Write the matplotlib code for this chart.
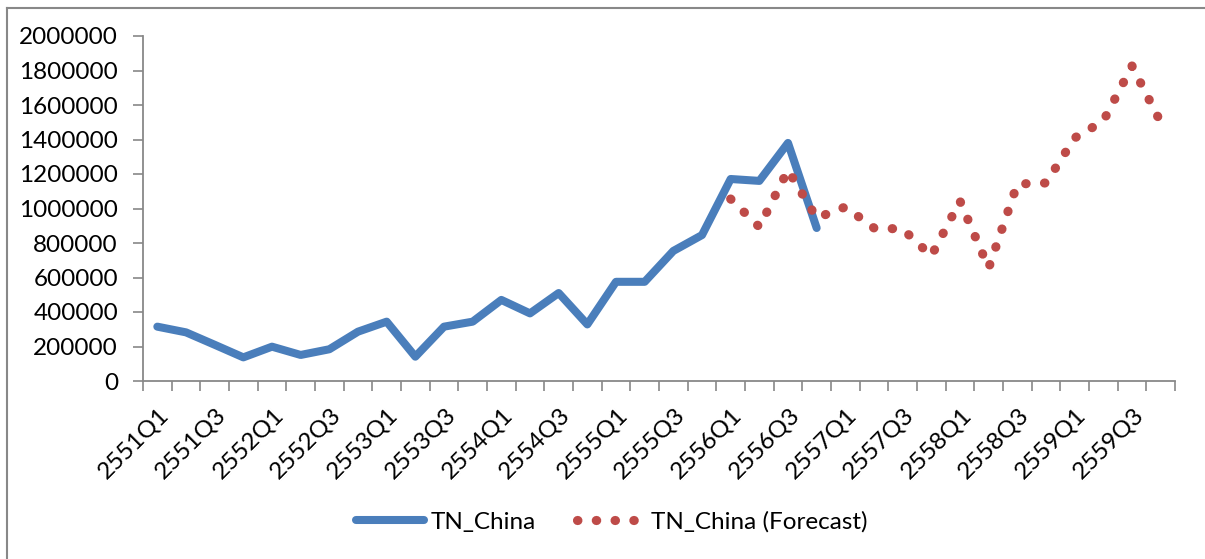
import matplotlib
matplotlib.use("Agg")
import matplotlib.pyplot as plt
from matplotlib.lines import Line2D
import matplotlib.transforms as mtransforms
import numpy as np

plt.rcParams['font.family'] = ['Lato', 'DejaVu Sans']
plt.rcParams['lines.scale_dashes'] = False

# Quarters on the Thai (B.E.) calendar
years = [2551, 2552, 2553, 2554, 2555, 2556, 2557, 2558, 2559]
quarters = [f"{y}Q{q}" for y in years for q in range(1, 5)]

# Tourist arrivals from China, observed
actual = [315000, 282000, 210000, 137000, 199000, 151000, 184000, 286000,
          344000, 141000, 315000, 344000, 470000, 392000, 510000, 328000,
          575000, 575000, 754000, 846000, 1171000, 1160000, 1380000, 887000]

# Forecast series, starting at 2556Q1
forecast_start = "2556Q1"
forecast = [1055000, 893000, 1223000, 945000, 1009000, 887000, 881000, 725000,
            1043000, 655000, 1142000, 1148000, 1409000, 1507000, 1826000, 1500000]

y_ticks = [0, 200000, 400000, 600000, 800000, 1000000, 1200000,
           1400000, 1600000, 1800000, 2000000]

W, H = 1205, 559
DPI = 100
fig = plt.figure(figsize=(W / DPI, H / DPI), dpi=DPI)
ax = fig.add_axes([143 / W, 1 - 381 / H, (1175 - 143) / W, (381 - 36) / H])

blue = "#4A7EBB"
red = "#BE4B48"
grey = "#888888"
fs = 17.5

x_act = np.arange(len(actual))
i0 = quarters.index(forecast_start)
x_fc = np.arange(i0, i0 + len(forecast))

ax.set_xlim(-0.5, len(quarters) - 0.5)
ax.set_ylim(0, 2000000)

# dot pitch chosen so that dots land on the first point and on the peak
pts = ax.transData.transform(np.column_stack([x_fc, forecast])) * 72 / DPI
seg = np.hypot(*np.diff(pts, axis=0).T)
peak = int(np.argmax(forecast))
length_to_peak = seg[:peak].sum()
pitch = length_to_peak / round(length_to_peak / 13.7)

ax.plot(x_act, actual, color=blue, lw=5.8, solid_capstyle="round",
        solid_joinstyle="round", label="TN_China")
ax.plot(x_fc, forecast, color=red, lw=6.6, linestyle=(0, (0.3, pitch - 0.3)),
        dash_capstyle="round", label="TN_China (Forecast)")

# y axis
ax.set_yticks(y_ticks)
ax.set_yticklabels([str(v) for v in y_ticks], fontsize=fs)
ax.tick_params(axis="y", direction="out", length=7, width=1.2, color=grey, pad=11)

# x axis: ticks at category boundaries, labels on every other category
ax.set_xticks(np.arange(-0.5, len(quarters), 1.0))
ax.set_xticklabels([])
ax.tick_params(axis="x", which="major", direction="out", length=7, width=1.2, color=grey)
ax.set_xticks(np.arange(0, len(quarters), 2), minor=True)
ax.set_xticklabels(quarters[::2], minor=True, rotation=45, ha="right",
                   va="center", rotation_mode="anchor", fontsize=fs)
ax.tick_params(axis="x", which="minor", length=0, pad=22)
shift = mtransforms.ScaledTranslation(8 / DPI, 0, fig.dpi_scale_trans)
for lab in ax.get_xticklabels(minor=True):
    lab.set_transform(lab.get_transform() + shift)

for side in ("top", "right"):
    ax.spines[side].set_visible(False)
for side in ("left", "bottom"):
    ax.spines[side].set_color(grey)
    ax.spines[side].set_linewidth(1.3)

leg = fig.legend(loc="center", bbox_to_anchor=(612 / W, 1 - 522 / H),
                 ncol=2, frameon=False, fontsize=fs, handlelength=2.8,
                 handletextpad=0.25, columnspacing=1.7)

# chart-area border
fig.add_artist(Line2D([7.5 / W, 7.5 / W], [0, 1 - 7.5 / H], transform=fig.transFigure,
                      color=grey, lw=1.5))
fig.add_artist(Line2D([7.5 / W, 1], [1 - 7.5 / H, 1 - 7.5 / H], transform=fig.transFigure,
                      color=grey, lw=1.5))

fig.savefig("out.png", dpi=DPI, facecolor="white")
